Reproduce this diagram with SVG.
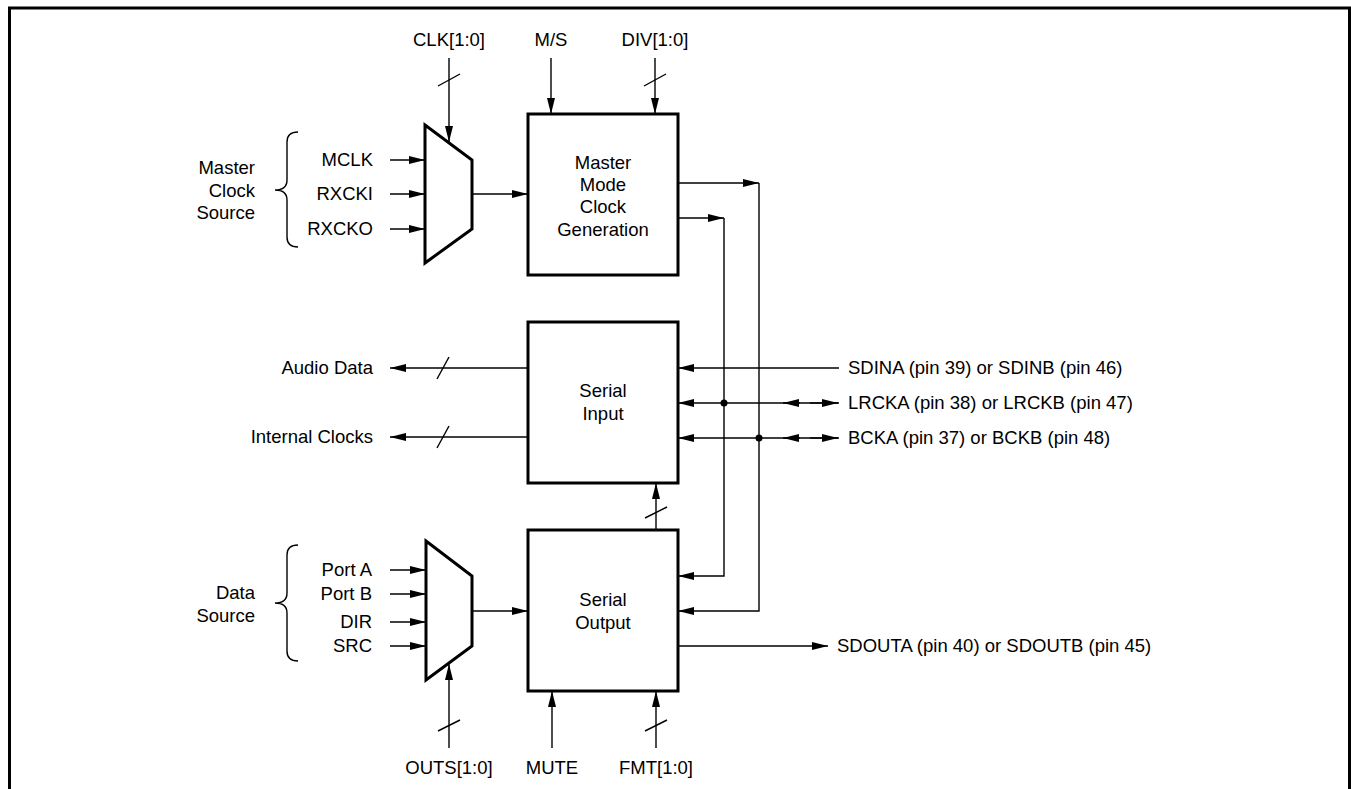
<svg xmlns="http://www.w3.org/2000/svg" width="1351" height="789" viewBox="0 0 1351 789">
<defs>
<style>
text{font-family:"Liberation Sans",Arial,Helvetica,sans-serif;font-size:18.5px;fill:#000}
.m{text-anchor:middle}
.e{text-anchor:end}
.box{fill:#fff;stroke:#000;stroke-width:3}
.w{fill:none;stroke:#000;stroke-width:1.4}
.a{marker-end:url(#ah)}
.dot{fill:#000}
</style>
<marker id="ah" viewBox="0 0 16 8" refX="16" refY="4" markerWidth="16" markerHeight="8" markerUnits="userSpaceOnUse" orient="auto">
<path d="M0,0 L16,4 L0,8 z" fill="#000"/>
</marker>
</defs>
<rect width="1351" height="789" fill="#fff"/>
<path d="M9.5,789 V8 H1349.5 V789" fill="none" stroke="#000" stroke-width="3"/>

<g id="connectors">
<line class="w a" x1="449" y1="58" x2="449" y2="142"/>
<line class="w" x1="438" y1="86" x2="460" y2="74"/>
<line class="w a" x1="551" y1="58" x2="551" y2="114"/>
<line class="w a" x1="655" y1="58" x2="655" y2="114"/>
<line class="w" x1="644" y1="86" x2="666" y2="74"/>
<line class="w a" x1="390" y1="160" x2="425" y2="160"/>
<line class="w a" x1="390" y1="194" x2="425" y2="194"/>
<line class="w a" x1="390" y1="229" x2="425" y2="229"/>
<line class="w a" x1="472" y1="194" x2="528" y2="194"/>
<line class="w a" x1="678" y1="183" x2="759" y2="183"/>
<polyline class="w a" points="759,183 759,611 678,611"/>
<line class="w a" x1="678" y1="218" x2="724" y2="218"/>
<polyline class="w a" points="724,218 724,576 678,576"/>
<line class="w a" x1="839" y1="368" x2="678" y2="368"/>
<line class="w a" x1="839" y1="403" x2="678" y2="403"/>
<line class="w a" x1="800" y1="403" x2="783" y2="403"/>
<line class="w a" x1="810" y1="403" x2="838" y2="403"/>
<circle class="dot" cx="724" cy="403" r="3.5"/>
<line class="w a" x1="839" y1="438" x2="678" y2="438"/>
<line class="w a" x1="800" y1="438" x2="783" y2="438"/>
<line class="w a" x1="810" y1="438" x2="838" y2="438"/>
<circle class="dot" cx="759" cy="438" r="3.5"/>
<line class="w a" x1="528" y1="368" x2="390" y2="368"/>
<line class="w" x1="437" y1="379" x2="449" y2="357"/>
<line class="w a" x1="528" y1="437" x2="390" y2="437"/>
<line class="w" x1="437" y1="448" x2="449" y2="426"/>
<line class="w a" x1="656" y1="530" x2="656" y2="483"/>
<line class="w" x1="645" y1="518" x2="667" y2="507"/>
<line class="w a" x1="390" y1="570" x2="426" y2="570"/>
<line class="w a" x1="390" y1="594" x2="426" y2="594"/>
<line class="w a" x1="390" y1="622" x2="426" y2="622"/>
<line class="w a" x1="390" y1="646" x2="426" y2="646"/>
<line class="w a" x1="472" y1="611" x2="528" y2="611"/>
<line class="w a" x1="449" y1="748" x2="449" y2="664"/>
<line class="w" x1="438" y1="731" x2="460" y2="720"/>
<line class="w a" x1="552" y1="748" x2="552" y2="691"/>
<line class="w a" x1="656" y1="748" x2="656" y2="691"/>
<line class="w" x1="645" y1="731" x2="667" y2="720"/>
<line class="w a" x1="678" y1="646" x2="828" y2="646"/>
<path class="w" d="M298,132 C291,132 287,135 287,142 V180 C287,186 283,190 275,190 C283,190 287,194 287,200 V237 C287,244 291,247 298,247"/>
<path class="w" d="M298,545 C291,545 287,548 287,555 V593 C287,599 283,603 275,603 C283,603 287,607 287,613 V651 C287,658 291,661 298,661"/>
</g>

<g id="mux-clock">
<polygon class="box" points="425,125 472,160 472,229 425,263"/>
</g>
<g id="mux-data">
<polygon class="box" points="426,541 472,576 472,646 426,680"/>
</g>
<g id="master-mode-clock-generation">
<rect class="box" x="528" y="114" width="150" height="161"/>
<text class="m" x="603" y="169">Master</text>
<text class="m" x="603" y="191">Mode</text>
<text class="m" x="603" y="213">Clock</text>
<text class="m" x="603" y="236">Generation</text>
</g>
<g id="serial-input">
<rect class="box" x="528" y="322" width="150" height="161"/>
<text class="m" x="603" y="397">Serial</text>
<text class="m" x="603" y="420">Input</text>
</g>
<g id="serial-output">
<rect class="box" x="528" y="530" width="150" height="161"/>
<text class="m" x="603" y="606">Serial</text>
<text class="m" x="603" y="629">Output</text>
</g>

<g id="labels">
<text class="m" x="449" y="46">CLK[1:0]</text>
<text class="m" x="551" y="46">M/S</text>
<text class="m" x="655" y="46">DIV[1:0]</text>
<text class="e" x="255" y="174">Master</text>
<text class="e" x="255" y="197">Clock</text>
<text class="e" x="255" y="219">Source</text>
<text class="e" x="373" y="166">MCLK</text>
<text class="e" x="373" y="200">RXCKI</text>
<text class="e" x="373" y="235">RXCKO</text>
<text class="e" x="373" y="374">Audio Data</text>
<text class="e" x="373" y="443">Internal Clocks</text>
<text x="848" y="374">SDINA (pin 39) or SDINB (pin 46)</text>
<text x="848" y="409">LRCKA (pin 38) or LRCKB (pin 47)</text>
<text x="848" y="444">BCKA (pin 37) or BCKB (pin 48)</text>
<text class="e" x="255" y="599">Data</text>
<text class="e" x="255" y="622">Source</text>
<text class="e" x="372" y="576">Port A</text>
<text class="e" x="372" y="600">Port B</text>
<text class="e" x="372" y="628">DIR</text>
<text class="e" x="372" y="652">SRC</text>
<text x="837" y="652">SDOUTA (pin 40) or SDOUTB (pin 45)</text>
<text class="m" x="449" y="774">OUTS[1:0]</text>
<text class="m" x="552" y="774">MUTE</text>
<text class="m" x="656" y="774">FMT[1:0]</text>
</g>
</svg>
